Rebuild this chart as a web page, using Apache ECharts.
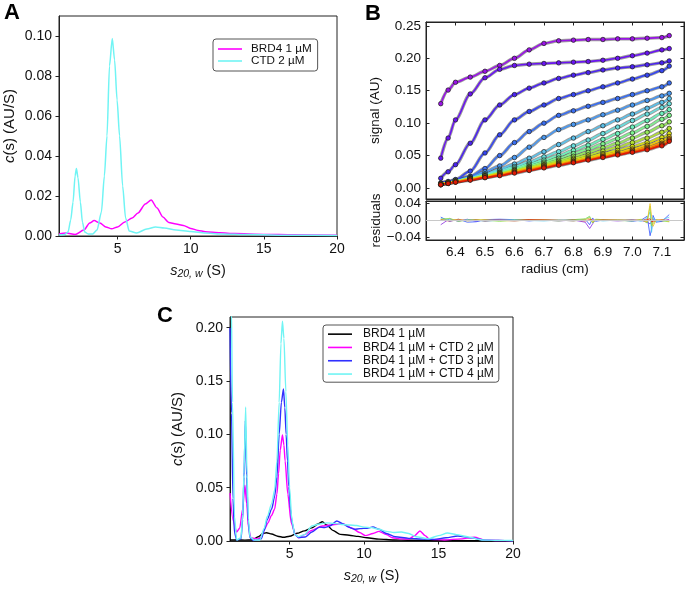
<!DOCTYPE html>
<html><head><meta charset="utf-8">
<script src="https://cdn.jsdelivr.net/npm/echarts@6/dist/echarts.min.js"></script>
<style>html,body{margin:0;padding:0;background:#fff}#c{width:688px;height:589px}</style>
</head><body><div id="c"></div>
<script>
// ---------- Panel A : c(s) distributions ----------
const aS_BRD4 = [1.0, 1.5, 2.1, 2.7, 3.1, 3.4, 3.8, 4.2, 4.6, 5.0, 5.5, 6.0, 6.4, 6.9, 7.3, 7.7, 8.1, 8.5, 9.0, 9.5, 10.0, 10.5, 11.0, 12.0, 13.0, 15.0, 17.0, 20.0];
const aC_BRD4 = [0.0010, 0.0015, 0.0007, 0.0030, 0.0065, 0.0077, 0.0065, 0.0045, 0.0036, 0.0045, 0.0070, 0.0090, 0.0115, 0.0160, 0.0180, 0.0140, 0.0095, 0.0068, 0.0060, 0.0053, 0.0038, 0.0028, 0.0021, 0.0016, 0.0012, 0.0008, 0.0006, 0.0004];
const aS_CTD = [1.0, 1.4, 1.62, 1.8, 1.96, 2.1, 2.19, 2.3, 2.46, 2.6, 2.76, 3.0, 3.3, 3.6, 3.9, 4.1, 4.28, 4.45, 4.64, 4.8, 4.97, 5.14, 5.35, 5.55, 5.8, 6.3, 7.0, 7.6, 8.2, 9.0, 10.0, 11.0, 12.0, 14.0, 17.0, 20.0];
const aC_CTD = [0.0005, 0.0008, 0.0020, 0.0080, 0.0170, 0.0300, 0.0338, 0.0290, 0.0170, 0.0070, 0.0020, 0.0010, 0.0010, 0.0030, 0.0120, 0.0300, 0.0500, 0.0850, 0.0988, 0.0880, 0.0680, 0.0500, 0.0250, 0.0090, 0.0025, 0.0015, 0.0035, 0.0045, 0.0040, 0.0030, 0.0022, 0.0015, 0.0010, 0.0007, 0.0004, 0.0003];
const aNames = ['BRD4 1 µM', 'CTD 2 µM'];
const sTicks = [5, 10, 15, 20];
const aYTicks = [0, 0.02, 0.04, 0.06, 0.08, 0.10];

// ---------- Panel B : scans (radius grid) ----------
const rB = [6.35, 6.375, 6.40, 6.45, 6.50, 6.55, 6.60, 6.65, 6.70, 6.75, 6.80, 6.85, 6.90, 6.95, 7.00, 7.05, 7.10, 7.125];
const scan01 = [0.130, 0.151, 0.163, 0.171, 0.180, 0.189, 0.200, 0.213, 0.223, 0.227, 0.228, 0.229, 0.229, 0.230, 0.230, 0.231, 0.232, 0.235];
const scan02 = [0.046, 0.077, 0.105, 0.145, 0.170, 0.183, 0.189, 0.191, 0.192, 0.193, 0.194, 0.195, 0.197, 0.200, 0.204, 0.208, 0.213, 0.215];
const scan03 = [0.015, 0.025, 0.036, 0.069, 0.105, 0.128, 0.144, 0.154, 0.162, 0.169, 0.174, 0.178, 0.182, 0.185, 0.187, 0.190, 0.193, 0.196];
const scan04 = [0.008, 0.010, 0.013, 0.026, 0.054, 0.082, 0.105, 0.118, 0.128, 0.138, 0.144, 0.150, 0.156, 0.162, 0.168, 0.174, 0.181, 0.188];
const scan05 = [0.007, 0.009, 0.012, 0.018, 0.030, 0.050, 0.070, 0.087, 0.100, 0.112, 0.119, 0.126, 0.132, 0.138, 0.144, 0.150, 0.156, 0.162];
const scan06 = [0.006, 0.008, 0.011, 0.017, 0.025, 0.034, 0.047, 0.063, 0.078, 0.090, 0.098, 0.105, 0.113, 0.120, 0.128, 0.135, 0.142, 0.146];
const scan07 = [0.006, 0.008, 0.011, 0.016, 0.022, 0.029, 0.037, 0.046, 0.056, 0.067, 0.077, 0.087, 0.096, 0.105, 0.114, 0.123, 0.132, 0.138];
const scan08 = [0.006, 0.008, 0.011, 0.016, 0.021, 0.027, 0.033, 0.040, 0.048, 0.056, 0.065, 0.074, 0.084, 0.094, 0.104, 0.114, 0.124, 0.130];
const scan09 = [0.006, 0.008, 0.011, 0.015, 0.020, 0.025, 0.031, 0.037, 0.043, 0.050, 0.058, 0.066, 0.075, 0.084, 0.094, 0.104, 0.115, 0.121];
const scan10 = [0.006, 0.008, 0.011, 0.015, 0.019, 0.024, 0.029, 0.035, 0.040, 0.046, 0.053, 0.060, 0.068, 0.076, 0.085, 0.095, 0.106, 0.112];
const scan11 = [0.006, 0.008, 0.011, 0.015, 0.019, 0.023, 0.028, 0.033, 0.038, 0.043, 0.049, 0.055, 0.062, 0.069, 0.077, 0.086, 0.096, 0.102];
const scan12 = [0.006, 0.008, 0.010, 0.014, 0.018, 0.023, 0.027, 0.032, 0.036, 0.041, 0.046, 0.051, 0.057, 0.063, 0.070, 0.077, 0.086, 0.092];
const scan13 = [0.006, 0.008, 0.010, 0.014, 0.018, 0.022, 0.026, 0.031, 0.035, 0.039, 0.044, 0.048, 0.053, 0.058, 0.064, 0.070, 0.078, 0.084];
const scan14 = [0.006, 0.008, 0.010, 0.014, 0.018, 0.022, 0.026, 0.030, 0.034, 0.038, 0.042, 0.046, 0.051, 0.055, 0.060, 0.066, 0.073, 0.079];
const scan15 = [0.005, 0.007, 0.010, 0.013, 0.017, 0.021, 0.025, 0.029, 0.033, 0.037, 0.041, 0.045, 0.049, 0.053, 0.058, 0.063, 0.069, 0.076];
const scan16 = [0.005, 0.007, 0.009, 0.013, 0.016, 0.020, 0.024, 0.028, 0.032, 0.036, 0.040, 0.044, 0.048, 0.052, 0.056, 0.061, 0.067, 0.074];
const scan17 = [0.005, 0.007, 0.009, 0.012, 0.016, 0.019, 0.023, 0.027, 0.031, 0.035, 0.039, 0.043, 0.047, 0.051, 0.055, 0.059, 0.065, 0.072];
const rTicks = [6.4, 6.5, 6.6, 6.7, 6.8, 6.9, 7.0, 7.1];
const bYTicks = [0, 0.05, 0.10, 0.15, 0.20, 0.25];

// ---------- Panel B : residuals ----------
const rRes = [6.35, 6.38, 6.41, 6.44, 6.47, 6.50, 6.55, 6.60, 6.65, 6.70, 6.75, 6.80, 6.84, 6.855, 6.865, 6.875, 6.90, 6.95, 7.00, 7.03, 7.05, 7.06, 7.065, 7.07, 7.08, 7.10, 7.125];
const resPurple = [-0.010, 0.004, -0.002, 0.003, -0.002, 0.002, 0.001, -0.001, 0.002, 0.001, -0.001, 0.001, -0.004, -0.019, -0.008, 0.002, 0.001, -0.001, 0.001, 0.000, -0.004, -0.008, -0.006, 0.002, 0.001, -0.002, 0.003];
const resBlue   = [0.008, -0.002, 0.003, -0.004, -0.003, 0.002, 0.003, 0.002, -0.001, 0.002, 0.001, -0.001, 0.003, -0.010, 0.006, -0.002, 0.001, 0.002, -0.002, 0.001, 0.010, -0.036, -0.020, 0.012, -0.004, -0.002, 0.014];
const resCyan   = [0.004, 0.002, -0.001, 0.002, 0.001, -0.002, 0.001, 0.002, 0.000, -0.001, 0.001, 0.002, 0.002, 0.008, -0.005, 0.001, -0.001, 0.001, 0.002, -0.002, 0.006, 0.020, -0.028, 0.008, -0.003, 0.001, 0.008];
const resGreen  = [0.003, 0.005, -0.002, 0.001, 0.002, 0.001, -0.002, 0.001, 0.002, 0.001, -0.001, 0.002, 0.004, 0.010, -0.006, 0.003, 0.002, 0.000, -0.001, 0.003, -0.006, 0.034, -0.012, -0.008, 0.002, -0.001, -0.003];
const resYellow = [0.002, 0.000, 0.003, -0.001, 0.001, 0.002, 0.000, -0.001, 0.001, 0.002, 0.001, -0.001, 0.002, 0.006, -0.004, 0.001, 0.001, 0.002, 0.000, 0.001, -0.003, 0.040, 0.010, -0.014, 0.001, 0.002, -0.002];
const resRed    = [0.001, -0.001, 0.001, 0.000, 0.001, -0.001, 0.001, 0.000, 0.002, 0.001, 0.000, 0.001, -0.001, 0.002, 0.001, 0.000, 0.001, 0.000, 0.001, 0.000, 0.002, 0.004, -0.003, 0.001, 0.000, 0.001, 0.000];
const resTicks = [-0.04, 0, 0.04];

// ---------- Panel C : titration ----------
const cS_BRD4 = [1.0, 1.5, 2.0, 2.5, 2.9, 3.2, 3.45, 3.8, 4.2, 4.6, 5.0, 5.5, 6.0, 6.5, 6.9, 7.2, 7.5, 7.9, 8.4, 9.0, 9.6, 10.2, 11.0, 12.0, 13.0, 15.0, 17.0, 20.0];
const cC_BRD4 = [0.0010, 0.0010, 0.0008, 0.0010, 0.0040, 0.0070, 0.0078, 0.0065, 0.0045, 0.0035, 0.0045, 0.0072, 0.0095, 0.0123, 0.0160, 0.0180, 0.0150, 0.0100, 0.0062, 0.0054, 0.0043, 0.0030, 0.0018, 0.0010, 0.0007, 0.0005, 0.0003, 0.0002];
const cS_CTD2 = [1.0, 1.2, 1.44, 1.65, 1.85, 2.0, 2.12, 2.25, 2.4, 2.9, 3.1, 3.34, 3.55, 3.79, 4.0, 4.15, 4.26, 4.37, 4.52, 4.62, 4.70, 4.88, 5.11, 5.39, 5.6, 6.0, 6.5, 7.2, 7.7, 8.3, 8.6, 9.2, 9.7, 10.1, 10.6, 11.0, 11.5, 11.9, 12.5, 13.0, 13.4, 13.75, 14.1, 14.4, 15.4, 16.5, 17.4, 18.1, 19.0, 20.0];
const cC_CTD2 = [0.045, 0.020, 0.0085, 0.012, 0.030, 0.0524, 0.035, 0.012, 0.003, 0.002, 0.004, 0.0116, 0.017, 0.024, 0.030, 0.044, 0.063, 0.085, 0.0995, 0.090, 0.075, 0.044, 0.017, 0.006, 0.003, 0.006, 0.010, 0.014, 0.015, 0.016, 0.016, 0.012, 0.008, 0.005, 0.007, 0.009, 0.006, 0.003, 0.002, 0.0018, 0.005, 0.0094, 0.005, 0.0015, 0.001, 0.002, 0.0035, 0.001, 0.0004, 0.0003];
const cS_CTD3 = [1.0, 1.1, 1.2, 1.3, 1.45, 1.74, 1.85, 1.94, 2.03, 2.12, 2.22, 2.34, 2.6, 3.1, 3.3, 3.5, 3.8, 4.0, 4.15, 4.3, 4.45, 4.59, 4.68, 4.77, 4.86, 4.95, 5.06, 5.17, 5.35, 5.6, 6.05, 6.5, 7.0, 7.35, 7.7, 8.17, 8.6, 8.95, 9.35, 9.73, 10.2, 10.6, 11.0, 11.5, 12.1, 13.0, 14.0, 14.7, 15.5, 16.3, 17.2, 18.1, 19.0, 20.0];
const cC_CTD3 = [0.20, 0.12, 0.04, 0.008, 0.001, 0.002, 0.020, 0.060, 0.113, 0.060, 0.018, 0.003, 0.0005, 0.002, 0.010, 0.020, 0.030, 0.042, 0.060, 0.100, 0.130, 0.1425, 0.125, 0.100, 0.075, 0.051, 0.030, 0.017, 0.006, 0.0032, 0.0038, 0.0085, 0.013, 0.0126, 0.014, 0.0188, 0.016, 0.013, 0.011, 0.0116, 0.012, 0.0132, 0.011, 0.007, 0.004, 0.0025, 0.0018, 0.0015, 0.003, 0.0047, 0.003, 0.0008, 0.0004, 0.0003];
const cS_CTD4 = [1.0, 1.09, 1.17, 1.3, 1.45, 1.74, 1.85, 1.94, 2.05, 2.14, 2.24, 2.34, 2.6, 3.0, 3.3, 3.5, 3.8, 4.0, 4.15, 4.3, 4.42, 4.52, 4.62, 4.75, 4.88, 5.0, 5.15, 5.35, 5.6, 6.0, 6.5, 7.0, 7.5, 8.0, 8.5, 9.0, 9.5, 10.0, 10.5, 11.0, 11.5, 12.0, 12.5, 13.0, 13.5, 14.3, 15.0, 15.6, 16.2, 17.0, 17.9, 19.0, 20.0];
const cC_CTD4 = [0.35, 0.22, 0.13, 0.023, 0.001, 0.003, 0.025, 0.063, 0.1256, 0.063, 0.020, 0.004, 0.001, 0.001, 0.012, 0.023, 0.035, 0.048, 0.075, 0.130, 0.185, 0.206, 0.190, 0.140, 0.090, 0.050, 0.020, 0.006, 0.004, 0.006, 0.014, 0.016, 0.017, 0.0165, 0.0155, 0.015, 0.0145, 0.013, 0.0125, 0.011, 0.009, 0.008, 0.0085, 0.007, 0.004, 0.002, 0.005, 0.0075, 0.006, 0.0038, 0.001, 0.0006, 0.0005];
const cNames = ['BRD4 1 µM ', 'BRD4 1 µM + CTD 2 µM', 'BRD4 1 µM + CTD 3 µM', 'BRD4 1 µM + CTD 4 µM'];
const cYTicks = [0, 0.05, 0.10, 0.15, 0.20];

// ---------- styling ----------
const FONT = '"Liberation Sans", Arial, sans-serif';
const scanColors = ['#9a14e6', '#6a14f2', '#4b24f0', '#3646f2', '#3a6ef0', '#4a98f0', '#5cbfe8', '#6adcdc', '#6ef0bc', '#7ef48e', '#96ea5a', '#b4e030', '#d2dc14', '#ecc80a', '#f29a08', '#f06406', '#e01a04'];
const scans = [scan01, scan02, scan03, scan04, scan05, scan06, scan07, scan08, scan09, scan10, scan11, scan12, scan13, scan14, scan15, scan16, scan17];
const resSeries = [[resPurple, '#8a2be2'], [resBlue, '#3050ff'], [resCyan, '#50c8f0'], [resGreen, '#80e040'], [resYellow, '#f0c020'], [resRed, '#e02010']];

function zip(xs, ys) { const n = Math.min(xs.length, ys.length); const o = []; for (let i = 0; i < n; i++) o.push([xs[i], ys[i]]); return o; }
const lblAC = { color: '#111', fontSize: 14, fontFamily: FONT };
const lblB = { color: '#111', fontSize: 13.5, fontFamily: FONT };
const frame = '#222';
const sName = '{i|s}{sub|20, w} (S)';
const nameStyleAC = { color: '#111', fontSize: 14.5, fontFamily: FONT,
  rich: { i: { fontStyle: 'italic', fontSize: 14.5, fontFamily: FONT, color: '#111' },
          sub: { fontStyle: 'italic', fontSize: 10.5, fontFamily: FONT, color: '#111', padding: [7, 0, 0, 0] } } };
const yNameStyleAC = { color: '#111', fontSize: 15, fontFamily: FONT,
  rich: { i: { fontStyle: 'italic', fontSize: 15, fontFamily: FONT, color: '#111' } } };
const nameStyleB = { color: '#111', fontSize: 13.5, fontFamily: FONT };

function xAx(grid, min, max, ticks, opts) {
  return Object.assign({
    gridIndex: grid, type: 'value', min: min, max: max,
    axisLine: { show: true, onZero: false, lineStyle: { color: frame, width: 1 } },
    axisTick: { show: true, length: 3.5, inside: false, lineStyle: { color: frame }, customValues: ticks },
    axisLabel: Object.assign({ show: true, margin: 6, customValues: ticks }, lblAC),
    splitLine: { show: false }
  }, opts || {});
}
function yAx(grid, min, max, ticks, opts) {
  return Object.assign({
    gridIndex: grid, type: 'value', min: min, max: max,
    axisLine: { show: true, onZero: false, lineStyle: { color: frame, width: 1 } },
    axisTick: { show: true, length: 3.5, inside: false, lineStyle: { color: frame }, customValues: ticks },
    axisLabel: Object.assign({ show: true, margin: 7, customValues: ticks, formatter: v => v.toFixed(2) }, lblAC),
    splitLine: { show: false }
  }, opts || {});
}
const inTick = ticks => ({ show: true, length: 3.5, inside: true, lineStyle: { color: frame }, customValues: ticks });

const option = {
  animation: false,
  backgroundColor: '#fff',
  grid: [
    { left: 59, top: 16, width: 278, height: 220, show: true, borderColor: frame, borderWidth: 1 },
    { left: 426, top: 22, width: 258, height: 177, show: true, borderColor: frame, borderWidth: 1 },
    { left: 426, top: 201, width: 258, height: 39, show: true, borderColor: frame, borderWidth: 1 },
    { left: 230, top: 317, width: 283, height: 224, show: true, borderColor: frame, borderWidth: 1 }
  ],
  xAxis: [
    xAx(0, 1, 20, sTicks, { name: sName, nameLocation: 'middle', nameGap: 26, nameTextStyle: nameStyleAC }),
    xAx(1, 6.30, 7.175, rTicks, { axisTick: inTick(rTicks), axisLabel: { show: false } }),
    xAx(1, 6.30, 7.175, rTicks, { position: 'top', axisTick: inTick(rTicks), axisLabel: { show: false } }),
    xAx(2, 6.30, 7.175, rTicks, { axisTick: inTick(rTicks), axisLabel: Object.assign({ show: true, margin: 5, customValues: rTicks, formatter: v => v.toFixed(1) }, lblB),
      name: 'radius (cm)', nameLocation: 'middle', nameGap: 22, nameTextStyle: nameStyleB }),
    xAx(2, 6.30, 7.175, rTicks, { position: 'top', axisTick: inTick(rTicks), axisLabel: { show: false } }),
    xAx(3, 1, 20, sTicks, { name: sName, nameLocation: 'middle', nameGap: 26, nameTextStyle: nameStyleAC })
  ],
  yAxis: [
    yAx(0, 0, 0.11, aYTicks, { name: '{i|c}(s) (AU/S)', nameLocation: 'middle', nameGap: 42, nameTextStyle: yNameStyleAC }),
    yAx(1, -0.017, 0.256, bYTicks, { axisTick: inTick(bYTicks), axisLabel: Object.assign({ show: true, margin: 5, customValues: bYTicks, formatter: v => v.toFixed(2) }, lblB),
      name: 'signal (AU)', nameLocation: 'middle', nameGap: 44, nameTextStyle: nameStyleB }),
    yAx(1, -0.017, 0.256, bYTicks, { position: 'right', axisTick: inTick(bYTicks), axisLabel: { show: false } }),
    yAx(2, -0.046, 0.046, resTicks, { axisTick: inTick(resTicks), axisLabel: Object.assign({ show: true, margin: 5, customValues: resTicks, formatter: v => v.toFixed(2).replace('-', '\u2212') }, lblB),
      name: 'residuals', nameLocation: 'middle', nameGap: 42, nameTextStyle: nameStyleB }),
    yAx(2, -0.046, 0.046, resTicks, { position: 'right', axisTick: inTick(resTicks), axisLabel: { show: false } }),
    yAx(3, 0, 0.21, cYTicks, { name: '{i|c}(s) (AU/S)', nameLocation: 'middle', nameGap: 45, nameTextStyle: yNameStyleAC })
  ],
  legend: [
    { data: aNames, left: 213, top: 39, orient: 'vertical', icon: 'rect', itemWidth: 24, itemHeight: 1.6, itemGap: 0,
      padding: [4, 6, 4, 5], borderColor: '#555', borderWidth: 1, borderRadius: 3, backgroundColor: '#fff',
      textStyle: { fontSize: 11.7, fontFamily: FONT, color: '#111', lineHeight: 12, padding: [0, 0, 0, 4] } },
    { data: cNames, left: 323, top: 325, orient: 'vertical', icon: 'rect', itemWidth: 24, itemHeight: 1.6, itemGap: 0,
      padding: [2.5, 5, 1.5, 5], borderColor: '#555', borderWidth: 1, borderRadius: 3, backgroundColor: '#fff',
      textStyle: { fontSize: 12, fontFamily: FONT, color: '#111', lineHeight: 13.3, padding: [0, 0, 0, 6] } }
  ],
  graphic: [
    { type: 'text', left: 4, top: 2, style: { text: 'A', font: 'bold 22px "Liberation Sans", Arial', fill: '#000' } },
    { type: 'text', left: 365, top: 3, style: { text: 'B', font: 'bold 22px "Liberation Sans", Arial', fill: '#000' } },
    { type: 'text', left: 157, top: 305, style: { text: 'C', font: 'bold 22px "Liberation Sans", Arial', fill: '#000' } }
  ],
  series: []
};

const cLine = (name, xi, yi, xs, ys, color, w) => ({ name: name, type: 'line', xAxisIndex: xi, yAxisIndex: yi, data: zip(xs, ys),
  symbol: 'none', smooth: 0.25, smoothMonotone: 'x', lineStyle: { color: color, width: w }, itemStyle: { color: color }, silent: true });

option.series.push(cLine(aNames[0], 0, 0, aS_BRD4, aC_BRD4, '#ff00ff', 1.5));
option.series.push(cLine(aNames[1], 0, 0, aS_CTD, aC_CTD, '#70f4f4', 1.5));

// dark under-stroke imitating the band of dark-edged data points, then the coloured fit line with points
scans.forEach((sc) => {
  option.series.push({ type: 'line', xAxisIndex: 1, yAxisIndex: 1, data: zip(rB, sc), smooth: 0.3, smoothMonotone: 'x',
    symbol: 'none', lineStyle: { color: '#262626', width: 3.4, opacity: 0.45 }, silent: true, z: 2 });
});
scans.forEach((sc, i) => {
  option.series.push({ type: 'line', xAxisIndex: 1, yAxisIndex: 1, data: zip(rB, sc), smooth: 0.3, smoothMonotone: 'x',
    symbol: 'circle', symbolSize: 4.5, showSymbol: true,
    itemStyle: { color: scanColors[i], borderColor: '#1a1a1a', borderWidth: 0.7 },
    lineStyle: { color: scanColors[i], width: 1.6 }, silent: true, z: 3 });
});

resSeries.forEach(([vals, col], i) => {
  const s = { type: 'line', xAxisIndex: 3, yAxisIndex: 3, data: zip(rRes, vals), symbol: 'none',
    lineStyle: { color: col, width: 0.8 }, silent: true };
  if (i === 0) s.markLine = { silent: true, symbol: 'none', label: { show: false }, lineStyle: { color: '#c8c8c8', width: 1, type: 'solid' }, data: [{ yAxis: 0 }] };
  option.series.push(s);
});

option.series.push(cLine(cNames[0], 5, 5, cS_BRD4, cC_BRD4, '#000000', 1.4));
option.series.push(cLine(cNames[1], 5, 5, cS_CTD2, cC_CTD2, '#ff00ff', 1.4));
option.series.push(cLine(cNames[2], 5, 5, cS_CTD3, cC_CTD3, '#3030ff', 1.4));
option.series.push(cLine(cNames[3], 5, 5, cS_CTD4, cC_CTD4, '#70f4f4', 1.4));

const chart = echarts.init(document.getElementById('c'), null, { renderer: 'canvas' });
chart.setOption(option);
</script>
</body></html>
